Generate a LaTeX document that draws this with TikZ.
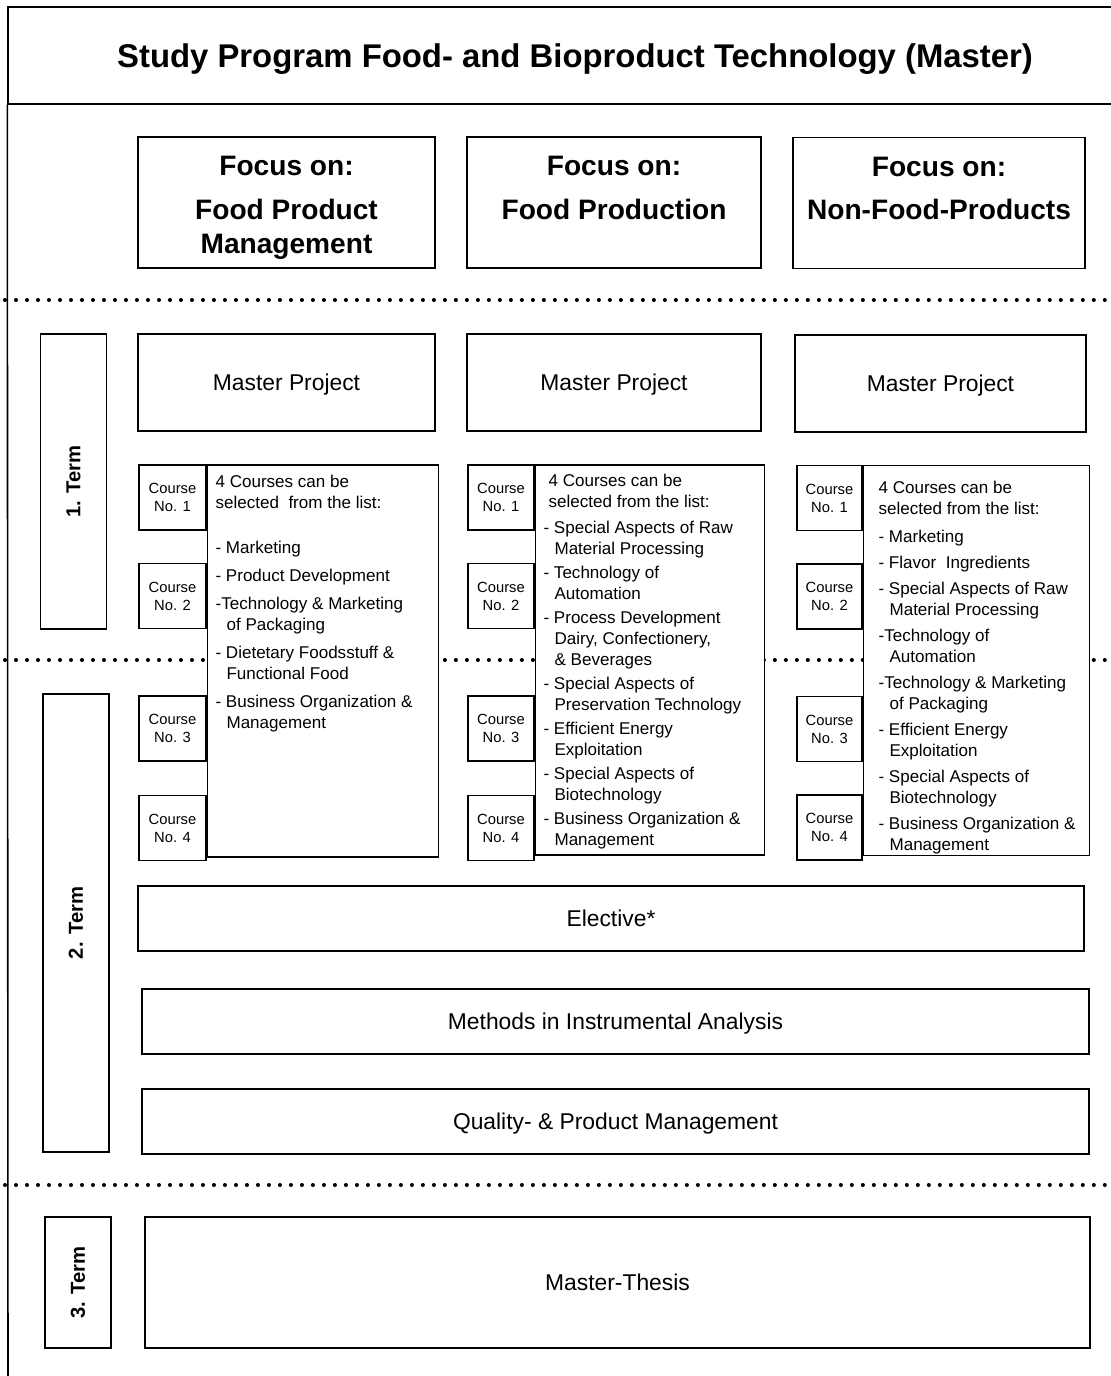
\documentclass[tikz,border=0pt]{standalone}
\usepackage{fontspec}
\setmainfont{Liberation Sans}
\usetikzlibrary{positioning}
\newcommand{\indnt}{\hspace*{0.22cm}}

\begin{document}
\begin{tikzpicture}[x=0.02cm, y=-0.02cm,
        box/.style={draw, line width=0.9pt, inner sep=0pt, align=center, fill=white, font=\fontsize{13}{15}\selectfont},
        modul/.style={box, text depth=0pt},
        focus/.style={box, minimum height=2.62cm, font=\bfseries\fontsize{16}{19.3}\selectfont},
        term/.style={box, rotate=90, minimum height=1.32cm, font=\bfseries\fontsize{11.5}{14}\selectfont},
        course/.style={box, minimum width=1.34cm, minimum height=1.3cm, font=\fontsize{8.4}{10.2}\selectfont},
        list/.style={box, anchor=north west, font=\fontsize{9.7}{11.95}\selectfont},
        dotline/.style={line width=2.3pt, line cap=round, dash pattern=on 0pt off 0.22cm}]
        \useasboundingbox (0,0) rectangle (1111,1376);

        %Titel
        \node[modul, minimum width=22.68cm, minimum height=1.94cm, font=\bfseries\fontsize{18.7}{22}\selectfont](title) at (575,55.5){Study Program Food- and Bioproduct Technology (Master)};
        \draw[line width=0.9pt](title.south west) -- (8,1390);

        %Trennlinien
        \draw[dotline] (5,300) -- (1111,300);
        \draw[dotline] (5,660) -- (1111,660);
        \draw[dotline] (5,1185) -- (1111,1185);

        %Schwerpunkte
        \node[focus, minimum width=5.94cm](f1) at (286.5,202.5){\rule{0pt}{17pt}Focus on:\\[0.2cm]Food Product\\Management};
        \node[focus, minimum width=5.88cm](f2) at (614,202.5){\rule{0pt}{17pt}Focus on:\\[0.2cm]Food Production\\\vphantom{Mg}};
        \node[focus, minimum width=5.84cm](f3) at (939,203){\rule{0pt}{17pt}Focus on:\\[0.2cm]Non-Food-Products\\\vphantom{Mg}};

        %Semester
        \node[term, minimum width=5.9cm](t1) at (73.5,481.5){1. Term};
        \node[term, minimum width=9.16cm](t2) at (76,923){2. Term};
        \node[term, minimum width=2.62cm](t3) at (78,1282.5){3. Term};

        %Master Project
        \node[modul, minimum width=5.94cm, minimum height=1.94cm](m1) at (286.5,382.5){Master Project};
        \node[modul, minimum width=5.88cm, minimum height=1.94cm](m2) at (614,382.5){Master Project};
        \node[modul, minimum width=5.82cm, minimum height=1.94cm](m3) at (940.5,383.5){Master Project};

        %Kurse links
        \node[course](c11) at (172.5,497.5){Course\\No. 1};
        \node[course, below = 0.64cm of c11](c12){Course\\No. 2};
        \node[course, below = 1.32cm of c12](c13){Course\\No. 3};
        \node[course, below = 0.66cm of c13](c14){Course\\No. 4};
        \node[list](l1) at (c11.north east){\parbox[c][7.84cm][t]{4.62cm}{\leftskip=0.16cm\relax\vspace*{0.2cm}
            4 Courses can be\\
            selected \ from the list:\\[0.48cm]
            - Marketing\\[0.14cm]
            - Product Development\\[0.14cm]
            -Technology \& Marketing\\
            \indnt of Packaging\\[0.14cm]
            - Dietetary Foodsstuff \&\\
            \indnt Functional Food\\[0.14cm]
            - Business Organization \&\\
            \indnt Management}};

        %Kurse mitte
        \node[course, minimum width=1.32cm](c21) at (501,497.5){Course\\No. 1};
        \node[course, minimum width=1.32cm, below = 0.64cm of c21](c22){Course\\No. 2};
        \node[course, minimum width=1.32cm, below = 1.32cm of c22](c23){Course\\No. 3};
        \node[course, minimum width=1.32cm, below = 0.66cm of c23](c24){Course\\No. 4};
        \node[list](l2) at (c21.north east){\parbox[c][7.8cm][t]{4.58cm}{\leftskip=0.16cm\relax\vspace*{0.18cm}
            \hspace*{0.1cm}4 Courses can be\\
            \hspace*{0.1cm}selected from the list:\\[0.1cm]
            - Special Aspects of Raw\\
            \indnt Material Processing\\[0.06cm]
            - Technology of\\
            \indnt Automation\\[0.06cm]
            - Process Development\\
            \indnt Dairy, Confectionery,\\
            \indnt \& Beverages\\[0.06cm]
            - Special Aspects of\\
            \indnt Preservation Technology\\[0.06cm]
            - Efficient Energy\\
            \indnt Exploitation\\[0.06cm]
            - Special Aspects of\\
            \indnt Biotechnology\\[0.06cm]
            - Business Organization \&\\
            \indnt Management}};

        %Kurse rechts
        \node[course, minimum width=1.3cm](c31) at (829.5,498){Course\\No. 1};
        \node[course, minimum width=1.3cm, below = 0.64cm of c31](c32){Course\\No. 2};
        \node[course, minimum width=1.3cm, below = 1.32cm of c32](c33){Course\\No. 3};
        \node[course, minimum width=1.3cm, below = 0.64cm of c33](c34){Course\\No. 4};
        \node[list](l3) at (c31.north east){\parbox[c][7.8cm][t]{4.52cm}{\leftskip=0.3cm\relax\vspace*{0.32cm}
            4 Courses can be\\
            selected from the list:\\[0.14cm]
            - Marketing\\[0.1cm]
            - Flavor \ Ingredients\\[0.1cm]
            - Special Aspects of Raw\\
            \indnt Material Processing\\[0.1cm]
            -Technology of\\
            \indnt Automation\\[0.1cm]
            -Technology \& Marketing\\
            \indnt of Packaging\\[0.1cm]
            - Efficient Energy\\
            \indnt Exploitation\\[0.1cm]
            - Special Aspects of\\
            \indnt Biotechnology\\[0.1cm]
            - Business Organization \&\\
            \indnt Management}};

        %Pflichtmodule
        \node[modul, minimum width=18.92cm, minimum height=1.3cm](el) at (611,918.5){Elective*};
        \node[modul, minimum width=18.94cm, minimum height=1.3cm](mi) at (615.5,1021.5){Methods in Instrumental Analysis};
        \node[modul, minimum width=18.94cm, minimum height=1.3cm](qm) at (615.5,1121.5){Quality- \& Product Management};
        \node[modul, minimum width=18.9cm, minimum height=2.62cm](th) at (617.5,1282.5){Master-Thesis};

    \end{tikzpicture}
\end{document}
